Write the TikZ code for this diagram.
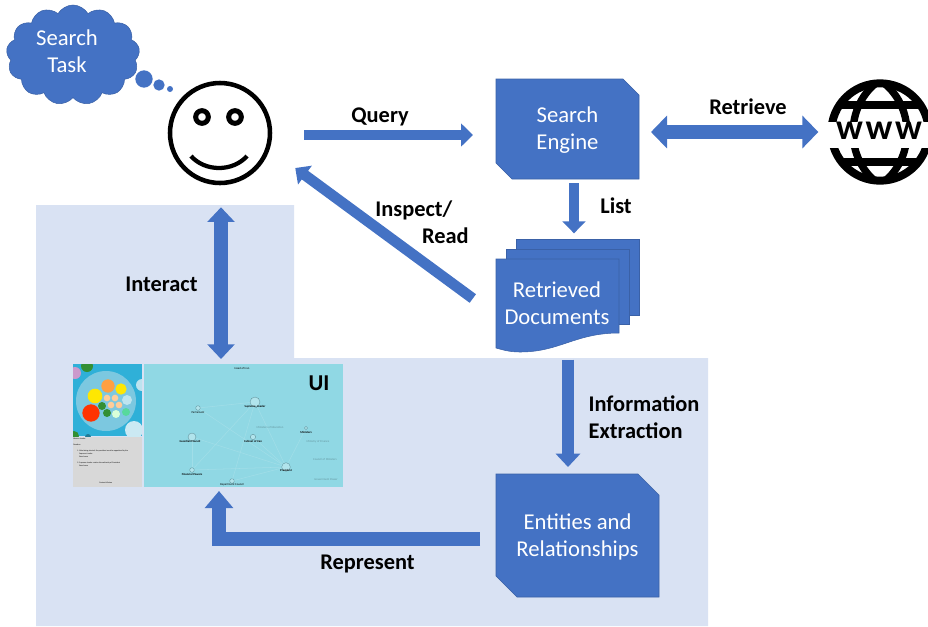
\documentclass[tikz,border=0pt]{standalone}
\usepackage{fontspec}
\setmainfont{Carlito}
\usetikzlibrary{arrows.meta,calc,shapes.symbols}
\definecolor{blockblue}{HTML}{4472C4}
\definecolor{paleblue}{HTML}{D9E2F3}
\definecolor{uicyan}{HTML}{90D8E4}
\definecolor{uisky}{HTML}{2FB0D8}
\definecolor{uiinner}{HTML}{7CC8E0}
\definecolor{uigray}{HTML}{D8D8D8}
\tikzset{
	block/.style={rectangle,inner sep=0pt,outer sep=0pt},
	plaintext/.style={align=center,text=white,font=\fontsize{17}{20.25}\selectfont},
	page/.style={fill=blockblue,draw=blockblue!85!black,line width=0.4pt},
	oneway/.style={draw=blockblue,line width=8pt,-{Triangle[length=9pt,width=17pt]}},
	twoway/.style={draw=blockblue,line width=10pt,{Triangle[length=11pt,width=20pt]}-{Triangle[length=11pt,width=20pt]}},
	wideway/.style={draw=blockblue,line width=11pt,{Triangle[length=12pt,width=24pt]}-{Triangle[length=12pt,width=24pt]}},
	elbow/.style={draw=blockblue,line width=10.5pt,-{Triangle[length=12.75pt,width=20.6pt]}},
	tag/.style={font=\bfseries\fontsize{16.8}{20.25}\selectfont,align=left,text=black},
	tiny/.style={font=\fontsize{2.2}{2.8}\selectfont,text=black,inner sep=0pt},
	tinier/.style={font=\fontsize{1.5}{2}\selectfont,text=black,inner sep=0pt,anchor=west},
	tinybold/.style={font=\bfseries\fontsize{2.2}{2.8}\selectfont,text=black,inner sep=0pt},
	faint/.style={font=\fontsize{2.2}{2.8}\selectfont,text=black!30!uicyan,inner sep=0pt},
	ball/.style={circle,inner sep=0pt},
	person/.style={ball,fill=uicyan!70!white,draw=black!30!uicyan,line width=0.3pt},
	edgeline/.style={draw=white!15!uicyan,line width=0.4pt}
}
\begin{document}
\begin{tikzpicture}[x=0.75pt,y=-0.75pt]
	\useasboundingbox (0,0) rectangle (928,626);
	\fill[paleblue] (36,205) -- (294,205) -- (294,358) -- (708,358) -- (708,626) -- (36,626) -- cycle;

	% thought cloud
	\node[cloud,cloud puffs=13,cloud puff arc=120,aspect=1.35,fill=blockblue,draw=blockblue!85!black,line width=0.4pt,minimum width=100pt,minimum height=75pt,inner sep=0pt] (cloudshape) at (73,55) {};
	\node[plaintext] (task) at (67,51.5) {Search\\Task};
	\node[ball,fill=blockblue,minimum size=13pt] (puffa) at (144,79) {};
	\node[ball,fill=blockblue,minimum size=8.5pt] (puffb) at (159,85) {};
	\node[ball,fill=blockblue,minimum size=4.5pt] (puffc) at (170,89) {};

	% user
	\node[ball,draw=black,line width=3.4pt,minimum size=75pt] (face) at (220,133) {};
	\node[ball,draw=black,line width=3.75pt,minimum size=9.5pt] (eyea) at (202,117) {};
	\node[ball,draw=black,line width=3.75pt,minimum size=9.5pt] (eyeb) at (235,117) {};
	\draw[black,line width=3.2pt] (191,156) .. controls (205,172) and (233,172) .. (247,156);

	% engine, documents, entities
	\node[block,minimum width=107.25pt,minimum height=75pt] (engine) at (567.5,129) {};
	\draw[page] (engine.north west) -- ($(engine.north east)+(-16,0)$) -- ($(engine.north east)+(0,16)$) -- (engine.south east) -- ($(engine.south west)+(16,0)$) -- ($(engine.south west)+(0,-16)$) -- cycle;
	\node[plaintext] (enginetext) at (567.5,130) {Search\\Engine};
	\node[block,minimum width=122.25pt,minimum height=92.25pt] (entities) at (577.5,535.5) {};
	\draw[page] (entities.north west) -- ($(entities.north east)+(-21,0)$) -- ($(entities.north east)+(0,21)$) -- (entities.south east) -- ($(entities.south west)+(21,0)$) -- ($(entities.south west)+(0,-21)$) -- cycle;
	\node[plaintext] (entitiestext) at (577.5,536.5) {Entities and\\Relationships};
	\draw[page] (516,239) rectangle (639,315);
	\draw[page] (506,249) rectangle (629,324);
	\draw[page] (496,259) -- (619,259) -- (619,333) .. controls (575,333) and (560,352) .. (520,352) .. controls (510,352) and (503,350) .. (496,348) -- cycle;
	\node[plaintext] (documents) at (557,303.5) {Retrieved\\Documents};

	% www globe
	\node[ball,draw=black,line width=6pt,minimum size=73pt] (globe) at (880,132) {};
	\begin{scope}
		\clip (880,132) circle (52);
		\draw[black,line width=5.5pt] (880,80) .. controls (844,105) and (844,160) .. (880,185);
		\draw[black,line width=5.5pt] (880,80) .. controls (916,105) and (916,160) .. (880,185);
		\draw[black,line width=6pt] (825,105) -- (935,105);
		\draw[black,line width=6pt] (825,162) -- (935,162);
	\end{scope}
	\fill[white] (820,122) rectangle (928,148);
	\node[inner sep=0pt,font=\bfseries\fontsize{27}{27}\selectfont,text=black] (www) at (879,131) {\addfontfeature{LetterSpace=7}www};

	% arrows
	\draw[oneway,line width=7.5pt] ($(face.east)+(32,2)$) -- ($(engine.west)+(-23,6)$);
	\draw[wideway] ($(engine.east)+(12,3)$) -- ($(globe.west)+(-9,0)$);
	\draw[oneway] ($(engine.south)+(6.5,4)$) -- ($(documents.north)+(17,-44)$);
	\draw[oneway] ($(documents.west)+(-27,-5)$) -- ($(face.east)+(23,35)$);
	\draw[twoway] ($(face.south)+(1,22)$) -- (221,359);
	\draw[oneway,line width=9pt,-{Triangle[length=10pt,width=18pt]}] ($(documents.south)+(11,30)$) -- ($(entities.north)+(-9.5,-7)$);
	\draw[elbow] ($(entities.west)+(-16,3.5)$) -- (219,539) -- (219,491);

	% arrow labels
	\node[tag] (query) at (380,117) {Query};
	\node[tag] (retrieve) at (748,107) {Retrieve};
	\node[tag] (list) at (616,206) {List};
	\node[tag] (inspect) at (422,222) {Inspect/\\\hspace*{35pt}Read};
	\node[tag] (interact) at (161.5,284) {Interact};
	\node[tag] (extraction) at (644,417.5) {Information\\Extraction};
	\node[tag] (represent) at (367.5,564) {Represent};

	% ui screenshot, left part
	\begin{scope}
		\clip (73,364) rectangle (142,436);
		\fill[uisky] (73,364) rectangle (142,436);
		\fill[uiinner] (106,401) circle (30);
		\fill[white!60!uiinner] (134,430) circle (9);
		\fill[green!45!black!80!white] (87,366) circle (6);
		\fill[violet!40!white] (75,373) circle (6);
		\fill[green!45!black!80!white] (74,436) circle (5);
		\fill[uisky!70!black] (88,437) circle (3);
		\fill[white!50!uiinner] (142,385) circle (6);
	\end{scope}
	\node[ball,fill=yellow!90!orange,minimum size=11pt] (bubblea) at (95,396) {};
	\node[ball,fill=orange!75!white,minimum size=10pt] (bubbleb) at (108,386) {};
	\node[ball,fill=yellow!90!orange,minimum size=8.5pt] (bubblec) at (121,389) {};
	\node[ball,fill=red!60!orange,minimum size=13pt] (bubbled) at (91,413) {};
	\node[ball,fill=green!45!black!80!white,minimum size=6pt] (bubblee) at (102,406) {};
	\node[ball,fill=green!45!black!80!white,minimum size=6pt] (bubblef) at (107,413) {};
	\node[ball,fill=orange!40!white,minimum size=5pt] (bubbleg) at (107,398) {};
	\node[ball,fill=orange!40!white,minimum size=5pt] (bubbleh) at (115,398) {};
	\node[ball,fill=orange!40!white,minimum size=5pt] (bubblei) at (111,405) {};
	\node[ball,fill=orange!40!white,minimum size=5pt] (bubblej) at (119,405) {};
	\node[ball,fill=white!50!uiinner,minimum size=7.5pt] (bubblek) at (127,400) {};
	\node[ball,fill=green!15!white,minimum size=6pt] (bubblel) at (116,414) {};
	\node[ball,fill=green!30!uiinner,minimum size=6pt] (bubblem) at (126,412) {};
	\fill[uigray] (73,437) rectangle (142,487);
	\node[tinier] (leader) at (73,439) {Mission Leader};
	\node[tinier] (duration) at (73,445) {Duration};
	\node[tinier] (pointa) at (77,451) {1. After being elected, the president must be appointed by the};
	\node[tinier] (pointb) at (79,454) {Supreme Leader};
	\node[tinier] (pointc) at (79,457) {Read more};
	\node[tinier] (pointd) at (77,463) {2. Supreme Leader retains the authority of President};
	\node[tinier] (pointe) at (79,466) {Read more};
	\node[tinier] (contact) at (99,483) {Contact Mission};

	% ui screenshot, right part
	\fill[uicyan] (144,364) rectangle (343,487);
	\node[person,minimum size=7.5pt] (leaderball) at (255,402) {};
	\node[person,minimum size=3.5pt] (ministerball) at (198,408) {};
	\node[person,minimum size=6pt] (councilball) at (192,437) {};
	\node[person,minimum size=4pt] (cabinetball) at (253,437) {};
	\node[person,minimum size=6.5pt] (presidentball) at (286,467) {};
	\node[person,minimum size=3.5pt] (financialball) at (192,470) {};
	\node[person,minimum size=3.5pt] (departmentball) at (232,481) {};
	\node[person,minimum size=2.5pt] (ministerballb) at (306,428) {};
	\draw[edgeline] (ministerball) -- (leaderball);
	\draw[edgeline] (ministerball) -- (presidentball);
	\draw[edgeline] (councilball) -- (financialball);
	\draw[edgeline] (leaderball) -- (financialball);
	\draw[edgeline] (leaderball) -- (presidentball);
	\draw[edgeline] (councilball) -- (presidentball);
	\draw[edgeline] (cabinetball) -- (presidentball);
	\draw[edgeline] (financialball) -- (presidentball);
	\draw[edgeline] (departmentball) -- (leaderball);
	\draw[edgeline] (ministerballb) -- (presidentball);
	\draw[edgeline] (departmentball) -- (presidentball);
	\node[tiny] (topname) at (242,368) {Head of Iran};
	\node[tinybold] (leadername) at (255,407) {Supreme\_Leader};
	\node[tiny] (ministername) at (198,412) {Parliament};
	\node[tinybold] (councilname) at (190,441) {Guardian Council};
	\node[tinybold] (cabinetname) at (253,441) {Cabinet of Iran};
	\node[tinybold] (presidentname) at (286,470) {President};
	\node[tinybold] (financialname) at (192,474) {Financial Powers};
	\node[tiny] (departmentname) at (232,485) {Department Council};
	\node[tinybold] (ministernameb) at (306,432) {Ministers};
	\node[faint] (faintname) at (270,427) {Ministers of Education};
	\node[faint] (faintnameb) at (318,442) {Ministry of Finance};
	\node[faint] (faintnamec) at (325,459) {Council of Ministers};
	\node[faint] (faintnamed) at (326,480) {Government Power};
	\node[font=\bfseries\fontsize{17}{17}\selectfont,text=black,inner sep=0pt] (uilabel) at (319,383) {UI};
\end{tikzpicture}
\end{document}
